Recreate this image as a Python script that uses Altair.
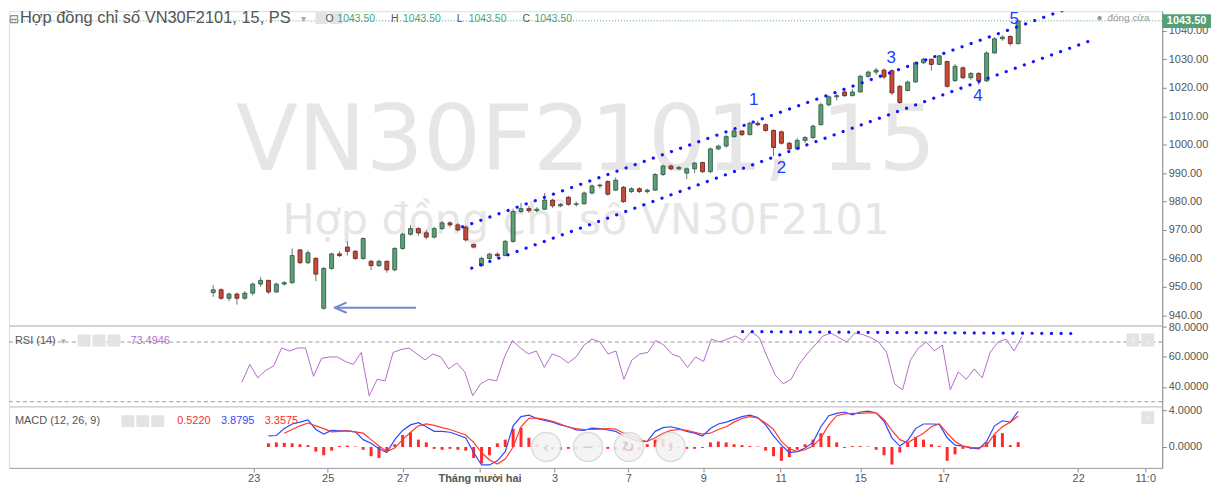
import json
import altair as alt
import pandas as pd

# ---------------- data ----------------
OPEN = [948, 949, 946, 947.5, 946, 947.8, 951, 952.3, 948.2, 951,
        951.5, 963, 958.5, 960, 942.5, 956.5, 961.6, 964, 962.5, 960,
        959, 957.5, 959, 956, 963.5, 968.5, 970.5, 969, 967.5, 970.5,
        972.5, 971.8, 971, 965, 957.5, 960, 961.5, 961, 966, 976.5,
        977.5, 976.8, 977.3, 980.5, 978.5, 981.5, 979, 979.2, 983, 985.5,
        987, 984, 985, 983.5, 984.5, 983.5, 984, 989.5, 992.5, 991.5,
        990, 991.5, 993.7, 990.5, 998.5, 999.5, 1002.8, 1004.8, 1003.5, 1007.5,
        1007, 1005, 1004.5, 1000.5, 998.5, 1001.5, 1002.5, 1007, 1014, 1016.8,
        1018.5, 1017.2, 1018.5, 1024, 1025.5, 1026.2, 1026, 1020.5, 1019, 1022,
        1028.8, 1030, 1028.2, 1029.2, 1022.5, 1027, 1023.5, 1025, 1022.4, 1032.2,
        1037.2, 1038, 1035.5]
HIGH = [950.6, 949.5, 948, 948, 948.5, 951.5, 953.5, 952.5, 951.5, 952,
        963.5, 963.3, 962.8, 960.5, 957, 962, 962.5, 966, 963, 967.4,
        959.5, 959.5, 959.3, 964, 969, 971.7, 971, 970, 971.2, 973.2,
        973, 972.5, 971.7, 965, 960.6, 962, 962.2, 966.5, 977.5, 979.5,
        978.5, 978, 983, 981, 979.5, 982, 980, 983.5, 986, 986.3,
        987.5, 988.5, 985.5, 985, 985, 984.5, 990, 993, 993, 992.5,
        992, 994, 994, 999, 1000, 1003.5, 1005.5, 1005, 1008, 1008.4,
        1007.5, 1005.3, 1005, 1001, 1002.3, 1003, 1007, 1014.8, 1017.3, 1018,
        1019.2, 1019.5, 1024.5, 1026, 1027, 1026.8, 1026.5, 1021, 1022.5, 1029.2,
        1030.5, 1030.3, 1031.5, 1029.5, 1028.3, 1027.5, 1025.5, 1025.5, 1032.8, 1037.8,
        1038.4, 1038.4, 1043.6]
LOW = [946.5, 945.5, 945, 943.8, 945.5, 947, 950, 947.5, 948, 950.5,
       951, 958, 958, 952, 942, 956, 960.5, 961, 959.5, 959.5,
       955.9, 957, 955, 955.5, 963, 968, 968, 966.7, 967, 970,
       971, 969.5, 966, 963.5, 957, 959.5, 960.2, 960.8, 965.5, 976,
       976, 976.2, 977, 977.8, 978, 978.5, 978.2, 979, 982.5, 984.6,
       982, 983.8, 979.5, 983, 983, 982.8, 983.8, 989, 991, 991,
       987.8, 990, 990, 990, 998, 999, 1002.5, 1003, 1003.3, 1006.5,
       1004.5, 996, 1000, 998, 998, 1000.5, 1002, 1006.8, 1013.5, 1015.5,
       1016.8, 1017, 1018.3, 1023.5, 1024.5, 1023, 1017.5, 1014.3, 1018.8, 1021.8,
       1028.3, 1026, 1028, 1020, 1022, 1023, 1022.8, 1021, 1022, 1032,
       1036.5, 1034.8, 1035.2]
CLOSE = [949, 946, 947.5, 946, 947.8, 951, 952.3, 948.2, 951, 951.5,
         961, 958.5, 962, 954.5, 956.5, 961.6, 961, 962.5, 960, 967,
         957.5, 959, 956, 963.5, 968.5, 970.5, 969, 967.5, 970.5, 972.5,
         971.8, 970, 966.5, 964, 960, 961.5, 961, 966, 976.5, 977.5,
         976.8, 977.3, 980.5, 978.5, 979, 979, 979.2, 983, 985.5, 985.8,
         982.6, 987.5, 980, 984.5, 983.5, 984, 989.5, 992.5, 991.5, 992,
         991.5, 993.5, 990.5, 998.5, 999.5, 1002.8, 1004.8, 1003.5, 1007.5, 1007,
         1005, 999, 1000.5, 998.5, 1001.5, 1002.5, 1006.5, 1014, 1016.8, 1017.2,
         1017.2, 1018.5, 1024, 1025.5, 1026.2, 1023.8, 1018.2, 1014.8, 1022, 1028.8,
         1030, 1028.2, 1031.2, 1020.5, 1027.5, 1023.5, 1025, 1022.4, 1032.2, 1037.2,
         1037.8, 1035.5, 1043.5]
RSI = [None, None, None, None, 43, 55, 46, 51, 54, 66,
       64, 66, 66, 47, 59, 60, 60, 57, 55, 63,
       34, 45, 44, 63, 65, 66, 62, 58, 62, 60,
       52, 56, 50, 34, 42, 45, 44, 60, 71, 66,
       62, 64, 53, 62, 60, 56, 60, 68, 72, 70,
       62, 64, 45, 58, 62, 63, 71, 68, 62, 60,
       53, 60, 57, 72, 70, 72, 74, 71, 77, 73,
       60, 48, 42, 45, 55, 62, 68, 74, 76, 73,
       70, 76, 75, 73, 70, 63, 42, 38, 58, 66,
       70, 64, 68, 38, 50, 45, 52, 46, 63, 70,
       72, 64, 73.49]
MACD = [None, None, None, None, None, None, None, 1.2, 1.25, 2.0,
        2.5, 2.7, 2.95, 1.9, 1.4, 1.8, 1.75, 1.75, 1.65, 0.8,
        0.4, -0.2, -0.6, 0.8, 1.8, 2.4, 2.65, 2.2, 1.7, 1.7,
        1.6, 1.3, 0.97, -0.6, -1.95, -1.95, -1.5, -0.5, 2.3, 3.3,
        3.46, 3.1, 2.9, 2.7, 2.4, 2.2, 1.85, 1.8, 2.05, 2.0,
        1.85, 1.7, 1.2, 0.9, 0.6, 0.6, 1.7, 2.1, 2.2, 2.0,
        1.7, 1.5, 1.2, 2.0, 2.5, 2.7, 3.0, 3.3, 3.45, 3.2,
        2.4, 1.2, 0.2, -0.6, -0.5, -0.1, 0.5, 2.2, 3.4, 3.65,
        3.8, 3.5, 3.8, 3.9, 3.7, 2.8, 1.0, 0.1, 0.7, 2.0,
        2.5, 2.5, 2.45, 1.0, 0.2, 0.1, -0.1, -0.2, 0.6, 2.3,
        2.85, 2.7, 3.88]
SIGNAL = [None, None, None, None, None, None, None, None, None, 1.5,
          1.9, 2.3, 2.6, 2.3, 2.0, 1.65, 1.7, 1.75, 1.65, 1.5,
          0.8, 0.1, -0.5, -0.1, 0.8, 1.6, 2.3, 2.5, 2.35, 2.1,
          1.9, 1.6, 1.3, 0.5, -0.6, -1.4, -1.85, -1.3, 0.0, 2.2,
          3.1, 3.15, 3.0, 2.8, 2.5, 2.15, 2.0, 1.9, 1.9, 1.95,
          2.0, 1.95, 1.5, 1.2, 0.8, 0.6, 1.0, 1.5, 1.8, 1.9,
          1.8, 1.6, 1.4, 1.5, 1.9, 2.2, 2.7, 3.1, 3.3, 3.15,
          2.6, 1.9, 0.6, -0.2, -0.5, -0.3, 0.1, 1.0, 2.4, 3.4,
          3.6, 3.65, 3.65, 3.7, 3.7, 3.0, 1.8, 0.8, 0.45, 1.0,
          1.5, 2.2, 2.5, 1.5, 0.6, 0.1, -0.05, -0.1, 0.2, 1.4,
          2.2, 2.7, 3.36]
HIST = [None, None, None, None, None, None, None, 0.4, 0.5, 0.45,
        0.4, 0.3, 0.2, -0.5, -0.9, -0.4, 0.1, 0.15, 0.05, -0.3,
        -1.0, -1.2, -0.5, 0.3, 1.3, 1.6, 0.8, 0.5, -0.2, -0.3,
        -0.2, -0.3, -0.4, -1.2, -1.8, -0.9, 0.4, 0.8, 2.0, 2.1,
        1.0, 0.3, -0.2, -0.3, -0.3, -0.2, -0.25, -0.1, 0.1, 0.15,
        -0.2, -0.3, -0.4, -0.4, -0.3, 0.3, 0.8, 0.9, 0.5, -0.1,
        -0.2, -0.2, -0.1, 0.5, 0.6, 0.5, 0.3, 0.2, 0.1, 0.05,
        -0.4, -1.0, -1.5, -1.1, -0.3, 0.3, 0.8, 1.5, 1.2, 0.5,
        -0.1, 0.1, 0.1, 0.05, -0.3, -0.9, -1.9, -0.6, 0.5, 1.1,
        0.8, 0.3, 0.1, -1.5, -0.8, -0.2, -0.2, -0.2, 0.5, 1.3,
        1.5, 0.2, 0.52]

TICK_POS = [5.125, 14.5, 24, 33.75, 43.25, 52.6, 62.1, 71.9, 82, 92.5, 109.6, 118.1]
TICK_LABELS = ["23", "25", "27", "Tháng mười hai", "3", "7", "9", "11", "15", "17", "22", "11:0"]
PRICE_TICKS = [940, 950, 960, 970, 980, 990, 1000, 1010, 1020, 1030, 1040]
RSI_TICKS = [40, 60, 80]
RSI_LEVELS = [70, 30]
MACD_TICKS = [0, 4]

LAST_PRICE = 1043.50
TITLE = "Hợp đồng chỉ số VN30F2101, 15, PS"
OHLC_KEYS = ["O", "H", "L", "C"]
OHLC_VALS = ["1043.50", "1043.50", "1043.50", "1043.50"]
WATERMARK_BIG = "VN30F2101, 15"
WATERMARK_SMALL = "Hợp đồng chỉ số VN30F2101"
CLOSE_NOTE = "đóng cửa"
RSI_TITLE = "RSI (14)"
RSI_VALUE = "73.4946"
MACD_TITLE = "MACD (12, 26, 9)"
MACD_VALUES = ["0.5220", "3.8795", "3.3575"]

WAVE_T = [68.5, 72.0, 85.9, 96.9, 101.5]
WAVE_P = [1015.7, 991.7, 1030.5, 1017.0, 1044.2]
WAVE_LABELS = ["1", "2", "3", "4", "5"]
CHANNEL_T = [31.6, 110.6, 32.75, 111.9]
CHANNEL_P = [971.1, 1050.1, 956.6, 1037.3]
CHANNEL_ID = ["upper", "upper", "lower", "lower"]
RSI_LINE_T = [66.9, 109.0]
RSI_LINE_V = [77.0, 75.7]
ARROW_T = [25.6, 15.4, 16.8, 15.4, 16.8]
ARROW_P = [942.7, 942.7, 944.4, 942.7, 941.0]
ARROW_ID = ["shaft", "shaft", "head", "head", "head"]

# ---------------- tables ----------------
N = len(CLOSE)
df = pd.DataFrame({"t": list(range(N)), "open": OPEN, "high": HIGH, "low": LOW,
                   "close": CLOSE, "rsi": RSI, "macd": MACD, "signal": SIGNAL, "hist": HIST})
df["dir"] = ["up" if c >= o else "down" for o, c in zip(OPEN, CLOSE)]
channel = pd.DataFrame({"t": CHANNEL_T, "p": CHANNEL_P, "id": CHANNEL_ID, "o": list(range(4))})
waves = pd.DataFrame({"t": WAVE_T, "p": WAVE_P, "label": WAVE_LABELS})
arrow = pd.DataFrame({"t": ARROW_T, "p": ARROW_P, "id": ARROW_ID, "o": list(range(5))})
rsi_line = pd.DataFrame({"t": RSI_LINE_T, "v": RSI_LINE_V})
levels = pd.DataFrame({"v": RSI_LEVELS})
last_df = pd.DataFrame({"p": [LAST_PRICE]})

# ---------------- layout ----------------
W = 1159
PH, RH, MH = 316, 81, 62
XS = alt.Scale(domain=[-25.25, 119.625], nice=False, zero=False)
PS = alt.Scale(domain=[936.4, 1046.9], nice=False, zero=False)
RS = alt.Scale(domain=[27, 81], nice=False, zero=False)
MS = alt.Scale(domain=[-2.27, 4.43], nice=False, zero=False)

GRAY = "#555555"
AX = "#8a8a8a"

hidden_x = alt.Axis(labels=False, ticks=False, grid=False, title=None,
                    domainColor="#a0a0a0", domainWidth=1)
label_expr = (json.dumps(TICK_LABELS, ensure_ascii=False) + "[indexof("
              + json.dumps(TICK_POS) + ", datum.value)]")
bottom_x = alt.Axis(values=TICK_POS, labelExpr=label_expr, grid=False, title=None,
                    tickSize=4, tickColor=AX, domainColor="#a0a0a0", labelColor=GRAY,
                    labelFontSize=11, labelPadding=1, labelFlush=False, labelOverlap=False,
                    labelFontWeight={"condition": {"test": "datum.value == 33.75", "value": "bold"},
                                     "value": "normal"})


def yaxis(values, fmt):
    return alt.Axis(orient="right", values=values, format=fmt, grid=False, title=None,
                    tickSize=4, tickColor=AX, domainColor=AX, labelColor=GRAY,
                    labelFontSize=11, labelPadding=2, labelOverlap=False)


P_AXIS = yaxis(PRICE_TICKS, ".2f")
R_AXIS = yaxis(RSI_TICKS, ".4f")
M_AXIS = yaxis(MACD_TICKS, ".4f")


def yP(field):
    return alt.Y(field, scale=PS, axis=P_AXIS)


def yR(field):
    return alt.Y(field, scale=RS, axis=R_AXIS)


def yM(field):
    return alt.Y(field, scale=MS, axis=M_AXIS)


ONE = pd.DataFrame({"label": [""]})


def text(label, x, y, size=11, color=GRAY, align="left", weight="normal", font=None, baseline="middle"):
    kw = dict(align=align, baseline=baseline, fontSize=size, color=color, fontWeight=weight)
    if font:
        kw["font"] = font
    return alt.Chart(pd.DataFrame({"label": [label]})).mark_text(**kw).encode(
        x=alt.value(x), y=alt.value(y), text="label:N")


def box(x, y, w, h, color="#e3e3e3"):
    return alt.Chart(ONE).mark_rect(color=color, cornerRadius=1).encode(
        x=alt.value(x), x2=alt.value(x + w), y=alt.value(y), y2=alt.value(y + h))


# ---------------- price panel ----------------
xP = alt.X("t:Q", scale=XS, axis=hidden_x)
base = alt.Chart(df)

wm1 = text(WATERMARK_BIG, 580, 160, size=91, color="#e6e6e6", align="center",
           font="DejaVu Sans", baseline="alphabetic")
wm2 = text(WATERMARK_SMALL, 580, 224, size=43, color="#e6e6e6", align="center",
           font="DejaVu Sans", baseline="alphabetic")

wicks = base.mark_rule(color="#737375", strokeWidth=1).encode(
    x=xP, y=yP("low:Q"), y2="high:Q")
bodies = base.mark_bar(size=4, strokeWidth=0.8).encode(
    x=xP, y=yP("open:Q"), y2="close:Q",
    color=alt.Color("dir:N", scale=alt.Scale(domain=["up", "down"], range=["#5f9e78", "#c94a3a"]), legend=None),
    stroke=alt.Stroke("dir:N", scale=alt.Scale(domain=["up", "down"], range=["#225437", "#5b1a13"]), legend=None))

chan = alt.Chart(channel).mark_line(color="#1414ff", strokeWidth=3.2, strokeDash=[0.1, 9.6],
                                    strokeCap="round", clip=True).encode(
    x=xP, y=yP("p:Q"), detail="id:N", order="o:Q")
wave_txt = alt.Chart(waves).mark_text(color="#2040ff", fontSize=17, font="Liberation Sans").encode(
    x=xP, y=yP("p:Q"), text="label:N")
arr = alt.Chart(arrow).mark_line(color="#7389cf", strokeWidth=2, strokeCap="round",
                                 strokeJoin="round").encode(
    x=xP, y=yP("p:Q"), detail="id:N", order="o:Q")
last_line = alt.Chart(last_df).mark_rule(color="#4fa375", strokeDash=[1, 2], strokeWidth=1).encode(
    y=yP("p:Q"))

hdr = [
    text("⊟", 0, 8, size=12, color="#777777"),
    text(TITLE, 11, 7, size=16.5, color=GRAY),
    text("▾", 293, 8, size=10, color="#aaaaaa"),
    box(308, 1, 12, 12), box(323, 1, 12, 12),
]
ohlc_x = [318, 384, 450, 516]
for k, v, xx in zip(OHLC_KEYS, OHLC_VALS, ohlc_x):
    hdr.append(text(k, xx, 8, size=10.5, color=GRAY))
    hdr.append(text(v, xx + 12, 8, size=10.5, color="#4fa375"))
hdr += [
    text("●", 1093, 7, size=10, color="#999999"),
    text(CLOSE_NOTE, 1104, 7, size=10, color="#999999"),
    box(1159, 3, 49, 14, color="#53a072"),
    text(f"{LAST_PRICE:.2f}", 1183.5, 10, size=11, color="white", align="center", weight="bold"),
]

price = alt.layer(wm1, wm2, wicks, bodies, chan, arr, wave_txt, last_line, *hdr).properties(
    width=W, height=PH)

# ---------------- RSI panel ----------------
xR = alt.X("t:Q", scale=XS, axis=hidden_x)
rsi_lv = alt.Chart(levels).mark_rule(color="#9a9a9a", strokeDash=[4, 3], strokeWidth=1).encode(
    y=yR("v:Q"))
rsi_ln = base.mark_line(color="#b46ccb", strokeWidth=1).encode(x=xR, y=yR("rsi:Q"))
rsi_dots = alt.Chart(rsi_line).mark_line(color="#1414ff", strokeWidth=3.2, strokeDash=[0.1, 9.6],
                                         strokeCap="round").encode(x=xR, y=yR("v:Q"))
rsi_hdr = [
    text(RSI_TITLE, 6, 15, size=11, color=GRAY),
    text("▾", 52, 15, size=9, color="#aaaaaa"),
    box(69, 9, 13, 12), box(84, 9, 13, 12), box(99, 9, 13, 12),
    text(RSI_VALUE, 122, 15, size=11, color="#b46ccb"),
    box(1123, 8, 13, 13), box(1138, 8, 13, 13),
    text("↑", 1129.5, 15, size=9, color="white", align="center"),
    text("↓", 1144.5, 15, size=9, color="white", align="center"),
]
rsi = alt.layer(rsi_lv, rsi_ln, rsi_dots, *rsi_hdr).properties(width=W, height=RH)

# ---------------- MACD panel ----------------
xM = alt.X("t:Q", scale=XS, axis=bottom_x)
hist = base.mark_bar(size=3, color="#ff2a2a").encode(x=xM, y=yM("hist:Q"), y2=alt.datum(0))
macd_ln = base.mark_line(color="#3048ff", strokeWidth=1.2).encode(x=xM, y=yM("macd:Q"))
sig_ln = base.mark_line(color="#ff3b30", strokeWidth=1.2).encode(x=xM, y=yM("signal:Q"))
nav = []
for cx, g in zip([540, 582, 623, 665], ["‹", "−", "↻", "›"]):
    nav.append(alt.Chart(ONE).mark_point(shape="circle", size=860, filled=True, fill="#f3f3f3",
                                         stroke="#d6d6d6", strokeWidth=1.5, opacity=0.85).encode(
        x=alt.value(cx), y=alt.value(41)))
    nav.append(text(g, cx, 41, size=15, color="#c9c9c9", align="center"))
macd_hdr = [
    text(MACD_TITLE, 6, 15, size=11, color=GRAY),
    box(113, 9, 13, 12), box(128, 9, 13, 12), box(143, 9, 13, 12),
    text(MACD_VALUES[0], 169, 15, size=11, color="#ff2a2a"),
    text(MACD_VALUES[1], 213, 15, size=11, color="#3048ff"),
    text(MACD_VALUES[2], 257, 15, size=11, color="#ff2a2a"),
    box(1138, 5, 13, 13),
    text("↑", 1144.5, 12, size=9, color="white", align="center"),
]
macd = alt.layer(hist, macd_ln, sig_ln, *nav, *macd_hdr).properties(width=W, height=MH)

chart = alt.vconcat(price, rsi, macd, spacing=0, bounds="flush").properties(
    padding=0).configure_view(stroke=None).configure(font="Liberation Sans")

chart.save("out.html", embed_options={"renderer": "svg", "actions": False})
